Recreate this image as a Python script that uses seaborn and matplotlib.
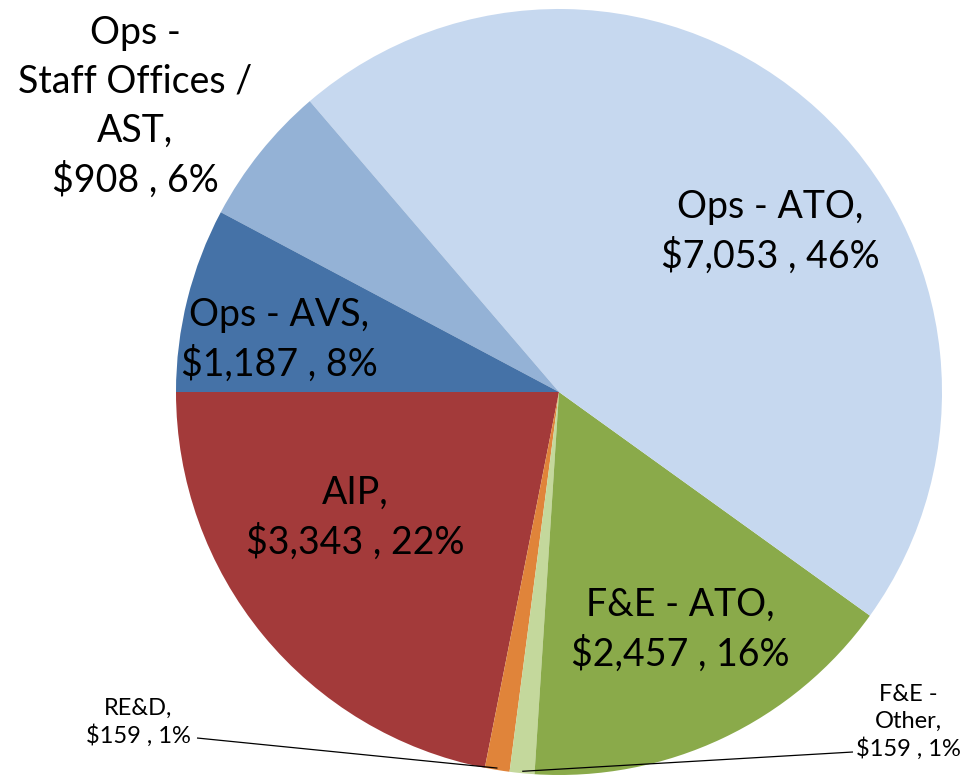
import numpy as np
import matplotlib
matplotlib.use("Agg")
import matplotlib.pyplot as plt
import seaborn as sns

categories = ["AIP", "RE&D", "F&E - Other", "F&E - ATO", "Ops - ATO",
              "Ops - Staff Offices / AST", "Ops - AVS"]
values = [3343, 159, 159, 2457, 7053, 908, 1187]
label_texts = ["AIP,\n$3,343 , 22%", "RE&D,\n$159 , 1%", "F&E -\nOther,\n$159 , 1%",
               "F&E - ATO,\n$2,457 , 16%", "Ops - ATO,\n$7,053 , 46%",
               "Ops -\nStaff Offices /\nAST,\n$908 , 6%", "Ops - AVS,\n$1,187 , 8%"]
colors = ["#A33A3A", "#E0843A", "#C4D89C", "#8AAA4A", "#C6D8EF", "#94B2D6", "#4572A7"]

# label centres in pixel coordinates (from top-left), font sizes
label_px = [(355, 518), (138, 722), (908, 722), (680, 630), (770, 232), (135, 107), (279, 340)]
label_size = [27, 17, 17, 27, 27, 27, 27]
leader = [False, True, True, False, False, False, False]
leader_start_px = {1: (197, 738), 2: (853, 752)}

sns.set_theme(style="white")
plt.rcParams['font.family'] = ['Lato', 'DejaVu Sans']

W, H = 973, 775
fig = plt.figure(figsize=(W / 100, H / 100), dpi=100)
ax = fig.add_axes([0, 0, 1, 1])
cx, cy, R = 559, 392, 383

wedges, _ = ax.pie(values, colors=colors, startangle=180, counterclock=True,
                   radius=1.0, center=(0, 0), frame=True,
                   wedgeprops=dict(linewidth=0))
ax.set_xlim(-cx / R, (W - cx) / R)
ax.set_ylim(-(H - cy) / R, cy / R)
ax.axis("off")


def px2d(x, y):
    return (x - cx) / R, (cy - y) / R


for i, (txt, (px, py), fs) in enumerate(zip(label_texts, label_px, label_size)):
    x, y = px2d(px, py)
    ax.text(x, y, txt, ha="center", va="center", fontsize=fs, color="black",
            linespacing=1.43 if fs > 20 else 1.3)
    if leader[i]:
        w = wedges[i]
        mid = np.deg2rad((w.theta1 + w.theta2) / 2)
        ex, ey = np.cos(mid) * 0.995, np.sin(mid) * 0.995
        sx, sy = px2d(*leader_start_px[i])
        ax.plot([sx, ex], [sy, ey], color="black", lw=0.9, solid_capstyle="butt")

fig.savefig("out.png", dpi=100)
